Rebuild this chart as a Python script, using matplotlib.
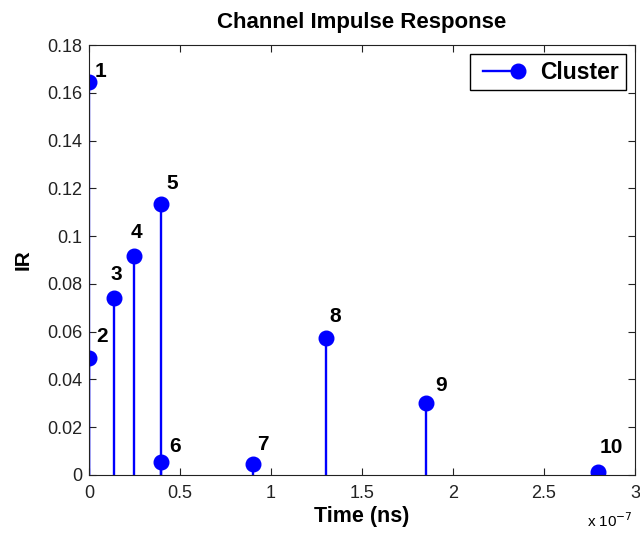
import numpy as np
import matplotlib
matplotlib.use("Agg")
import matplotlib.pyplot as plt
from matplotlib.lines import Line2D
from matplotlib.legend_handler import HandlerLine2D
from matplotlib.ticker import FuncFormatter, MultipleLocator

plt.rcParams['font.family'] = ['Liberation Sans', 'DejaVu Sans']

# cluster arrival times (s) and impulse response amplitudes
times = [0.0, 0.0, 0.14e-7, 0.25e-7, 0.395e-7, 0.395e-7, 0.90e-7, 1.305e-7, 1.853e-7, 2.80e-7]
ir = [0.1646, 0.0488, 0.0742, 0.0917, 0.1134, 0.0052, 0.0046, 0.0575, 0.0300, 0.0013]
labels = ['1', '2', '3', '4', '5', '6', '7', '8', '9', '10']

# label offsets from each point, pixels
offs = [(12, 10), (13, 22), (2, 23), (2, 23), (11, 21), (14, 16), (10, 19), (9, 21), (15, 18), (13, 24)]


class RightMarker(HandlerLine2D):
    # legend line with the marker only at its right end
    def create_artists(self, *args, **kwargs):
        arts = super().create_artists(*args, **kwargs)
        for a in arts:
            a.set_markevery([1])
        return arts


fig = plt.figure(figsize=(6.4, 5.36), dpi=100)
ax = fig.add_axes([0.139, 0.114, 0.853, 0.802])

blue = (0, 0, 1)
ml, sl, bl = ax.stem(times, ir, basefmt=' ')
plt.setp(sl, color=blue, linewidth=1.7)
plt.setp(ml, color=blue, markersize=10.5, markeredgecolor=blue)

for t, v, s, (dx, dy) in zip(times, ir, labels, offs):
    ax.annotate(s, (t, v), xytext=(dx, dy), textcoords='offset pixels',
                ha='center', va='center', fontsize=15, fontweight='bold')

ax.set_xlim(0, 3e-7)
ax.set_ylim(0, 0.18)
ax.xaxis.set_major_locator(MultipleLocator(0.5e-7))
ax.yaxis.set_major_locator(MultipleLocator(0.02))
ax.xaxis.set_major_formatter(FuncFormatter(lambda v, p: f"{round(v / 1e-7, 3):g}"))
ax.yaxis.set_major_formatter(FuncFormatter(lambda v, p: f"{round(v, 3):g}"))
ax.tick_params(direction='in', top=True, right=True, length=5, labelsize=13, colors='#222222')
ax.tick_params(axis='x', pad=7)
ax.tick_params(axis='y', pad=5)
for sp in ax.spines.values():
    sp.set_color('#222222')

ax.set_title('Channel Impulse Response', fontsize=16, fontweight='bold', pad=12)
ax.set_xlabel('Time (ns)', fontsize=15.5, fontweight='bold', labelpad=3)
ax.set_ylabel('IR', fontsize=15, fontweight='bold', labelpad=10)
fig.text(0.917, 0.012, r'x 10$^{-7}$', fontsize=11, ha='left', va='bottom')

handle = Line2D([], [], color=blue, linewidth=1.7, marker='o', markersize=10.5)
leg = ax.legend([handle], ['Cluster'], loc='upper right', numpoints=2, fancybox=False,
                handler_map={handle: RightMarker()},
                edgecolor='black', framealpha=1, prop={'size': 16.5, 'weight': 'bold'},
                handlelength=2.1, handletextpad=0.7, borderpad=0.28, borderaxespad=0.4)
leg.get_frame().set_linewidth(1.0)

fig.savefig('out.png', dpi=100)
